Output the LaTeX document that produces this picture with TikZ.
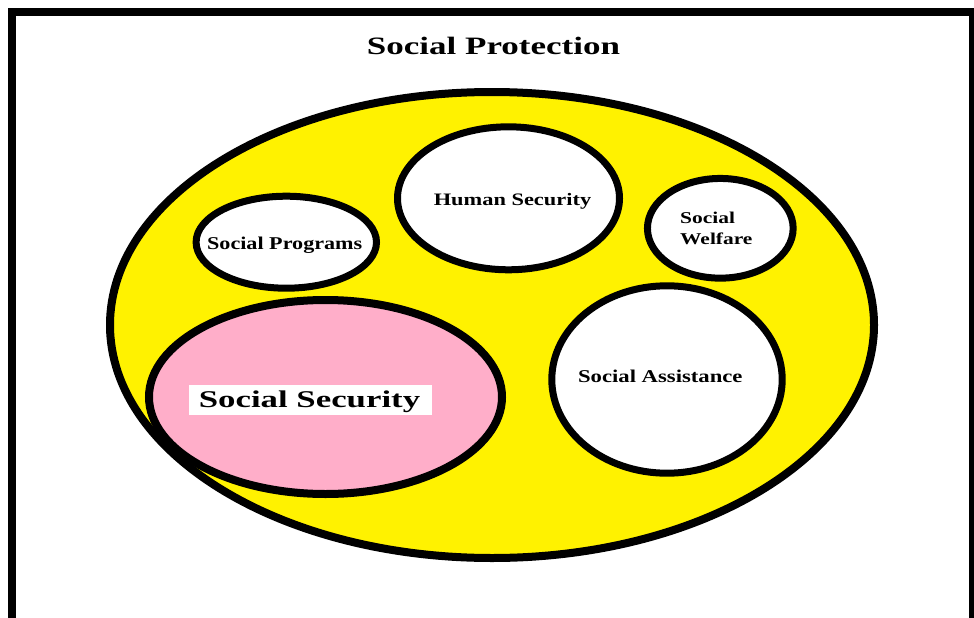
\documentclass[tikz,border=0pt]{standalone}
\usepackage{fontspec}
\setmainfont{Liberation Serif}
\usepackage{graphicx}
\usetikzlibrary{shapes.geometric}
\definecolor{pyellow}{RGB}{255,242,0}
\definecolor{ppink}{RGB}{255,174,201}
\newcommand{\hstretch}[2]{\scalebox{#1}[1]{#2}}
\begin{document}
\begin{tikzpicture}[x=1pt,y=-1pt,
  bubble/.style={ellipse, draw=black, line width=7pt, fill=white, inner sep=0pt},
  lbl/.style={text=black, inner sep=0pt, anchor=base},
  fs/.style 2 args={font=\fontsize{#1}{#2}\selectfont\bfseries}]
\useasboundingbox (0,0) rectangle (974,618);
\begin{scope}
  \clip (0,0) rectangle (974,618);
  \draw[line width=8pt] (11.5,12) rectangle (972.5,700);
\end{scope}
% big ellipse
\node[bubble, line width=8pt, fill=pyellow, minimum width=764pt, minimum height=466pt] (protect) at (492,325) {};
% inner bubbles
\node[bubble, minimum width=180.4pt, minimum height=92pt] (programs) at (286.3,242.2) {};
\node[bubble, minimum width=222pt, minimum height=143pt] (human) at (508.5,198.3) {};
\node[bubble, minimum width=145.7pt, minimum height=99.7pt] (welfare) at (720.3,228.3) {};
\node[bubble, minimum width=230.4pt, minimum height=187.4pt] (assist) at (667,379.5) {};
\node[bubble, line width=8pt, fill=ppink, minimum width=353pt, minimum height=194pt] (security) at (325.5,397) {};
% white box behind Social Security
\node[fill=white, inner sep=0pt, minimum width=243pt, minimum height=30pt] (secbox) at (310.5,400) {};
% labels
\node[lbl, fs={25}{30}] (ttitle) at (493.5,54.5) {\hstretch{1.40}{Social Protection}};
\node[lbl, fs={24}{29}] (tsecurity) at (309.5,407) {\hstretch{1.45}{Social Security}};
\node[lbl, fs={18}{22}] (tprograms) at (284.7,249) {\hstretch{1.23}{Social Programs}};
\node[lbl, fs={17.5}{21}] (thuman) at (512.5,205) {\hstretch{1.28}{Human Security}};
\node[lbl, fs={16.5}{21}, anchor=base west] (twelfare) at (680,223.3) {\hstretch{1.3}{\begin{tabular}[t]{@{}l@{}}Social\\Welfare\end{tabular}}};
\node[lbl, fs={18}{22}] (tassist) at (660.3,382.7) {\hstretch{1.26}{Social Assistance}};
\end{tikzpicture}
\end{document}
